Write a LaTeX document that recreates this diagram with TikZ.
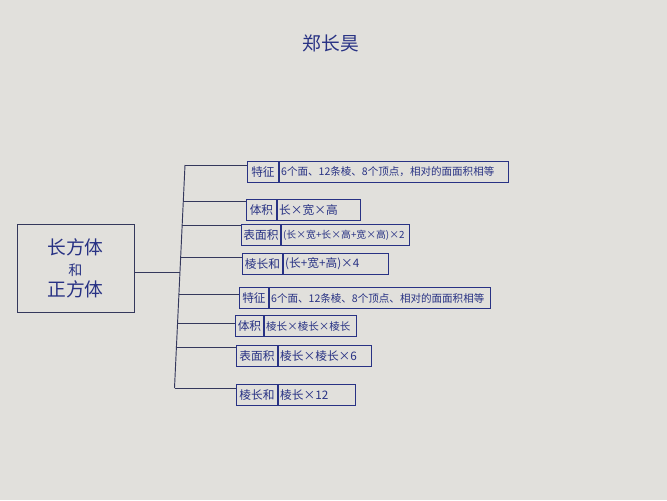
\documentclass[tikz,border=0pt]{standalone}
\usepackage{fontspec}
\setmainfont{Noto Sans CJK SC}
\usepackage{tikz}
\usetikzlibrary{positioning}
\usepackage{xcolor}
\definecolor{paper}{RGB}{225,224,220}
\definecolor{ink}{RGB}{40,50,132}
\definecolor{pencil}{RGB}{52,56,92}

\begin{document}
\begin{tikzpicture}[x=0.03cm, y=-0.03cm, node distance = 0cm and 0cm,
    keycell/.style={draw=ink, line width=0.8pt, text=ink, minimum height=0.62cm, inner sep=1.5pt, font=\fontsize{10}{11}\selectfont},
    textcell/.style={draw=ink, line width=0.8pt, text=ink, minimum height=0.62cm, inner sep=1.5pt, text width=#1, align=left, font=\fontsize{10}{11}\selectfont},
    small/.style={font=\fontsize{9}{11}\selectfont},
    wire/.style={draw=pencil, line width=0.8pt}]
        % Paper
        \fill[paper] (0,0) rectangle (667,500);

        % Nodes
        \node[text=ink, font=\fontsize{16}{17}\selectfont] (author) at (331,43) {郑长昊};
        \node[draw=pencil, line width=0.8pt, text=ink, minimum width=3.51cm, minimum height=2.64cm, align=center, font=\fontsize{16}{18}\selectfont] (body) at (75.5,268) {长方体\\{\fontsize{12}{13}\selectfont 和}\\正方体};

        \node[keycell, minimum width=0.93cm, anchor=west] (k1) at (247,172) {特征};
        \node[textcell=6.77cm, small, right=of k1] (v1) {6个面、12条棱、8个顶点，相对的面面积相等};
        \node[keycell, minimum width=0.90cm, anchor=west] (k2) at (246,210) {体积};
        \node[textcell=2.39cm, right=of k2] (v2) {长×宽×高};
        \node[keycell, minimum width=1.17cm, anchor=west] (k3) at (241,235) {表面积};
        \node[textcell=3.74cm, font=\fontsize{8.4}{11}\selectfont, right=of k3] (v3) {(长×宽+长×高+宽×高)×2};
        \node[keycell, minimum width=1.20cm, anchor=west] (k4) at (242,264) {棱长和};
        \node[textcell=3.05cm, right=of k4] (v4) {(长+宽+高)×4};
        \node[keycell, minimum width=0.87cm, anchor=west] (k5) at (239,298) {特征};
        \node[textcell=6.53cm, small, right=of k5] (v5) {6个面、12条棱、8个顶点、相对的面面积相等};
        \node[keycell, minimum width=0.84cm, anchor=west] (k6) at (235,326) {体积};
        \node[textcell=2.66cm, small, right=of k6] (v6) {棱长×棱长×棱长};
        \node[keycell, minimum width=1.23cm, anchor=west] (k7) at (236,356) {表面积};
        \node[textcell=2.69cm, right=of k7] (v7) {棱长×棱长×6};
        \node[keycell, minimum width=1.23cm, anchor=west] (k8) at (236,395) {棱长和};
        \node[textcell=2.21cm, right=of k8] (v8) {棱长×12};

        % Trunk points
        \coordinate (t1) at (185,165);
        \coordinate (t2) at (183.3,201);
        \coordinate (t3) at (182.2,225);
        \coordinate (t4) at (180.7,257);
        \coordinate (t5) at (178.9,294);
        \coordinate (t6) at (177.6,323);
        \coordinate (t7) at (176.4,347);
        \coordinate (t8) at (174.5,388);
        \coordinate (hub) at (180,272);

        % Lines
        \draw[wire] (t1) -- (t8);
        \draw[wire] (body.east |- hub) -- (hub);
        \draw[wire] (t1) -- (t1 -| k1.west);
        \draw[wire] (t2) -- (t2 -| k2.west);
        \draw[wire] (t3) -- (t3 -| k3.west);
        \draw[wire] (t4) -- (t4 -| k4.west);
        \draw[wire] (t5) -- (t5 -| k5.west);
        \draw[wire] (t6) -- (t6 -| k6.west);
        \draw[wire] (t7) -- (t7 -| k7.west);
        \draw[wire] (t8) -- (t8 -| k8.west);
    \end{tikzpicture}
\end{document}
